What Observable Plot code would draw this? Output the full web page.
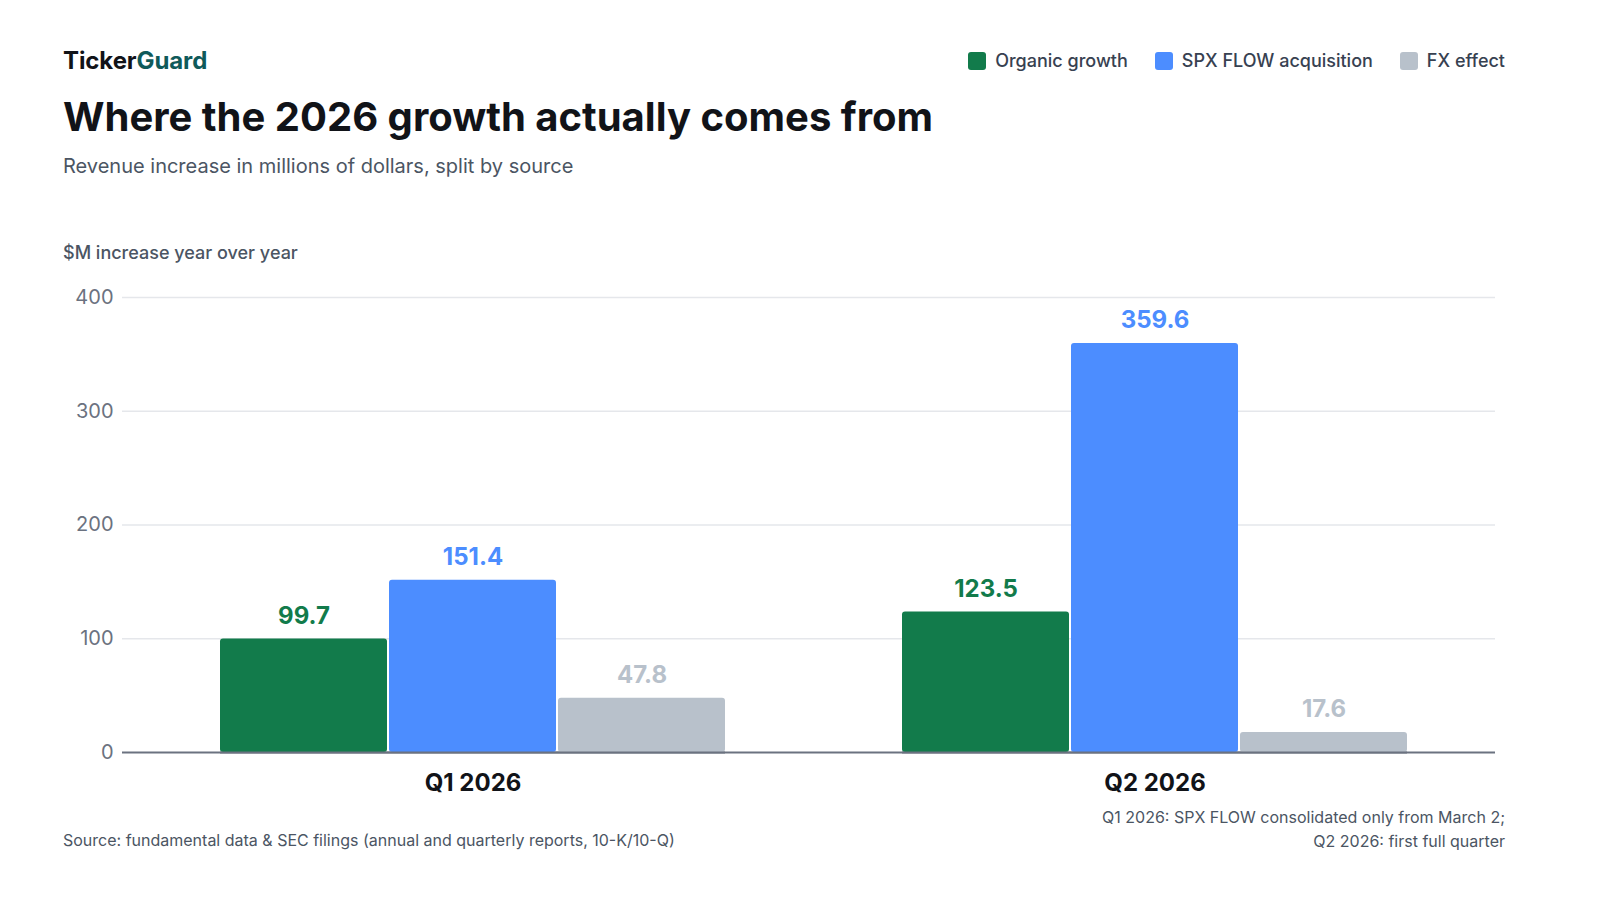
<!DOCTYPE html>
<html>
<head>
<meta charset="utf-8">
<script src="https://cdn.jsdelivr.net/npm/d3@7"></script>
<script src="https://cdn.jsdelivr.net/npm/@observablehq/plot@0.6"></script>
<style>
  html, body { margin: 0; padding: 0; background: #fff; }
  body { font-family: Inter, "Noto Sans", sans-serif; }
  #wrap { position: relative; width: 1600px; height: 900px; overflow: hidden; }
  .abs { position: absolute; }
  #brand { left: 63px; top: 46px; font-size: 24px; font-weight: 700; letter-spacing: -0.1px; color: #111318; }
  #brand span { color: #0f5a5a; }
  #title { left: 63px; top: 92px; font-size: 40px; font-weight: 700; letter-spacing: 0px; color: #111318; white-space: nowrap; }
  #subtitle { left: 63px; top: 154px; font-size: 20px; color: #4b5563; }
  #ylabel { left: 63px; top: 242px; font-size: 18px; font-weight: 500; color: #4b5563; }
  #legend { right: 95px; top: 50px; display: flex; gap: 27px; font-size: 18px; font-weight: 500; color: #374151; }
  .item { display: flex; align-items: center; gap: 9px; }
  .sw { width: 18px; height: 18px; border-radius: 3px; display: inline-block; }
  #source { left: 63px; top: 830px; font-size: 16px; color: #4b5563; }
  #note { right: 95px; top: 805px; font-size: 16px; color: #4b5563; text-align: right; line-height: 24px; }
  .chart { left: 0; top: 270px; }
</style>
</head>
<body>
<div id="wrap">
  <div id="brand" class="abs">Ticker<span>Guard</span></div>
  <div id="legend" class="abs"></div>
  <div id="title" class="abs">Where the 2026 growth actually comes from</div>
  <div id="subtitle" class="abs">Revenue increase in millions of dollars, split by source</div>
  <div id="ylabel" class="abs">$M increase year over year</div>
  <div id="bg" class="abs chart"></div>
  <div id="fg" class="abs chart"></div>
  <div id="source" class="abs">Source: fundamental data &amp; SEC filings (annual and quarterly reports, 10-K/10-Q)</div>
  <div id="note" class="abs">Q1 2026: SPX FLOW consolidated only from March 2;<br>Q2 2026: first full quarter</div>
</div>
<script>
const quarters = ["Q1 2026", "Q2 2026"];
const series = ["Organic growth", "SPX FLOW acquisition", "FX effect"];
const colors = ["#127B4B", "#4C8DFF", "#B8C1CB"];
const organic = [99.7, 123.5];
const spxFlow = [151.4, 359.6];
const fxEffect = [47.8, 17.6];
const yTicks = [0, 100, 200, 300, 400];

const valuesBySeries = [organic, spxFlow, fxEffect];
const data = quarters.flatMap((q, i) =>
  series.map((s, j) => ({quarter: q, series: s, value: valuesBySeries[j][i]}))
);

// legend
const legend = document.getElementById("legend");
series.forEach((s, i) => {
  const it = document.createElement("div");
  it.className = "item";
  it.innerHTML = `<span class="sw" style="background:${colors[i]}"></span><span>${s}</span>`;
  legend.appendChild(it);
});

const common = {
  width: 1600, height: 540, marginTop: 27, marginBottom: 58
};

const bg = Plot.plot({
  ...common,
  marginLeft: 122, marginRight: 105,
  style: {background: "transparent", fontFamily: "Inter, sans-serif"},
  y: {domain: [0, 400], axis: null},
  marks: [
    Plot.ruleY(yTicks.filter(d => d > 0), {y: d => d, stroke: "#e5e7eb", strokeWidth: 1.5}),
    Plot.ruleY([0], {stroke: "#6b7280", strokeWidth: 2}),
    Plot.text(yTicks, {y: d => d, text: d => String(d), frameAnchor: "left", textAnchor: "end", dx: -9, fill: "#6b7280", fontSize: 20})
  ]
});
document.getElementById("bg").appendChild(bg);

const fg = Plot.plot({
  ...common,
  marginLeft: 126, marginRight: 99,
  style: {background: "transparent", fontFamily: "Inter, sans-serif"},
  fx: {domain: quarters, paddingInner: 0.2595, paddingOuter: 0.1378, axis: null, label: null},
  x: {domain: series, paddingInner: 0.012, paddingOuter: 0, axis: null},
  y: {domain: [0, 400], axis: null},
  color: {domain: series, range: colors},
  marks: [
    Plot.barY(data, {fx: "quarter", x: "series", y: "value", fill: "series", rx: 3, insetLeft: 0, insetRight: 0}),
    Plot.ruleY([0], {stroke: "#6b7280", strokeWidth: 2}),
    Plot.text(data, {fx: "quarter", x: "series", y: "value", text: d => d.value.toFixed(1), fill: "series", fontSize: 24, fontWeight: 700, dy: -23}),
    Plot.text(quarters, {fx: d => d, text: d => d, frameAnchor: "bottom", lineAnchor: "middle", dy: 31, fontSize: 24, fontWeight: 700, fill: "#111318"})
  ]
});
document.getElementById("fg").appendChild(fg);
</script>
</body>
</html>
